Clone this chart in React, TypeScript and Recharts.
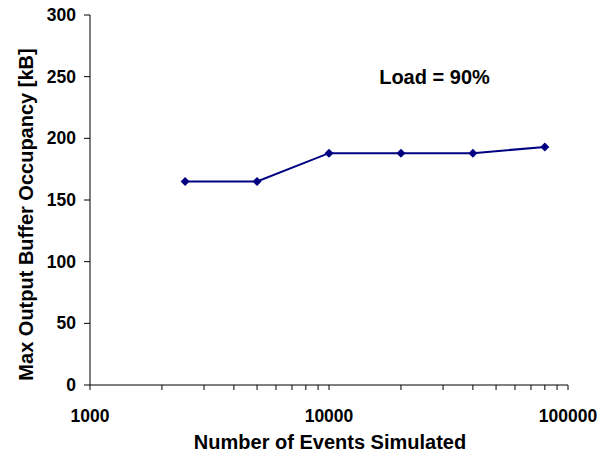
import { LineChart, Line, XAxis, YAxis, Customized } from "recharts";

const events = [2500, 5000, 10000, 20000, 40000, 80000];
const occupancy = [165, 165, 188, 188, 188, 193];

const yTicks = [0, 50, 100, 150, 200, 250, 300];
const xTicks = [
  1000, 2000, 3000, 4000, 5000, 6000, 7000, 8000, 9000,
  10000, 20000, 30000, 40000, 50000, 60000, 70000, 80000, 90000,
  100000,
];
const xLabels = [1000, 10000, 100000];

const data = events.map((n, i) => ({ events: n, occupancy: occupancy[i] }));

const FONT = "'Liberation Sans', Arial, sans-serif";

function XTick({ x, y, payload }: any) {
  if (!xLabels.includes(payload.value)) return null;
  return (
    <text
      x={x}
      y={y + 30}
      textAnchor="middle"
      fontFamily={FONT}
      fontWeight="bold"
      fontSize={17.5}
      fill="#000"
    >
      {payload.value}
    </text>
  );
}

function YTick({ x, y, payload }: any) {
  return (
    <text
      x={x - 6}
      y={y + 6}
      textAnchor="end"
      fontFamily={FONT}
      fontWeight="bold"
      fontSize={17.5}
      fill="#000"
    >
      {payload.value}
    </text>
  );
}

function Diamond({ cx, cy }: any) {
  const s = 4.5;
  return (
    <polygon
      points={`${cx},${cy - s} ${cx + s},${cy} ${cx},${cy + s} ${cx - s},${cy}`}
      fill="#000080"
    />
  );
}

function Titles() {
  return (
    <g fontFamily={FONT} fontWeight="bold" fill="#000">
      <text x={330} y={449} textAnchor="middle" fontSize={20}>
        Number of Events Simulated
      </text>
      <text
        x={0}
        y={0}
        textAnchor="middle"
        fontSize={20}
        transform="translate(33 214.5) rotate(-90)"
      >
        Max Output Buffer Occupancy [kB]
      </text>
      <text x={434.5} y={84} textAnchor="middle" fontSize={20}>
        Load = 90%
      </text>
    </g>
  );
}

export default function App() {
  return (
    <div style={{ position: "absolute", left: 0, top: 0, background: "#fff" }}>
      <LineChart
        width={613}
        height={456}
        data={data}
        margin={{ top: 15, right: 45, left: 30, bottom: 41 }}
      >
        <XAxis
          dataKey="events"
          type="number"
          scale="log"
          domain={[1000, 100000]}
          ticks={xTicks}
          interval={0}
          tick={<XTick />}
          tickSize={5}
          height={30}
          stroke="#000"
          allowDataOverflow
        />
        <YAxis
          type="number"
          domain={[0, 300]}
          ticks={yTicks}
          interval={0}
          tick={<YTick />}
          tickSize={6}
          width={60}
          stroke="#000"
        />
        <Line
          dataKey="occupancy"
          stroke="#000080"
          strokeWidth={2}
          dot={<Diamond />}
          activeDot={false}
          isAnimationActive={false}
        />
        <Customized component={<Titles />} />
      </LineChart>
    </div>
  );
}
